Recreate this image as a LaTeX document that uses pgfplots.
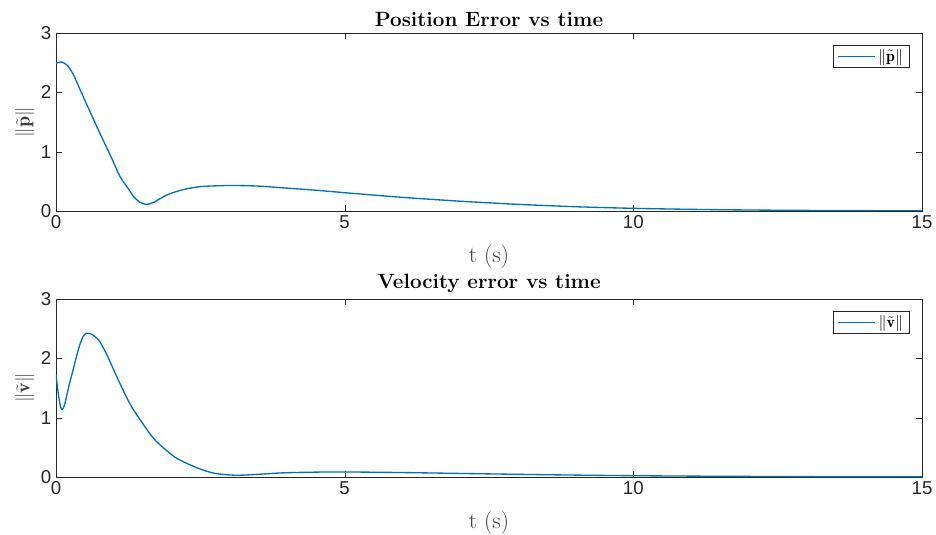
\documentclass[border=0pt]{standalone}
\usepackage{pgfplots}
\pgfplotsset{compat=1.18}
\usepackage{fontspec}
\usepackage{amsmath}
\newfontfamily\ticksf{Liberation Sans}
\definecolor{mblue}{rgb}{0,0.447,0.741}
\definecolor{maxis}{rgb}{0.15,0.15,0.15}
\pgfplotstableread{
t v
0 2.49
0.1 2.51
0.2 2.45
0.3 2.30
0.42 2.04
0.6 1.65
0.76 1.31
0.95 0.92
1.11 0.58
1.25 0.38
1.34 0.25
1.45 0.15
1.57 0.11
1.7 0.15
1.92 0.27
2.2 0.36
2.49 0.41
2.8 0.425
3.07 0.43
3.5 0.42
3.93 0.39
4.5 0.35
4.98 0.31
6 0.23
7 0.165
7.5 0.138
8 0.112
9 0.072
10 0.045
11 0.028
12 0.017
13 0.010
14 0.006
15 0.004
}\ptable
\pgfplotstableread{
t v
0 1.73
0.04 1.40
0.08 1.18
0.11 1.14
0.15 1.22
0.22 1.52
0.3 1.82
0.36 2.05
0.42 2.25
0.47 2.37
0.52 2.42
0.58 2.42
0.66 2.38
0.76 2.28
0.9 2.02
1.11 1.57
1.3 1.20
1.51 0.89
1.7 0.64
1.91 0.45
2.1 0.31
2.38 0.18
2.6 0.10
2.78 0.057
3.0 0.035
3.18 0.03
3.5 0.045
3.93 0.07
4.5 0.082
5 0.085
6 0.075
7 0.06
8 0.045
9 0.032
10 0.022
11 0.015
12 0.010
13 0.006
14 0.004
15 0.003
}\vtable
\pgfplotsset{
  myax/.style={
    scale only axis, width=649.5pt, height=133.5pt,
    xmin=0, xmax=15, ymin=0, ymax=3,
    xtick={0,5,10,15}, ytick={0,1,2,3},
    tick align=inside, major tick length=4.5pt,
    axis line style={maxis}, tick style={maxis},
    tick label style={font=\ticksf\fontsize{14}{16}\selectfont, text=maxis},
    /pgf/number format/assume math mode=true,
    title style={font=\bfseries\fontsize{15.5}{18}\selectfont, yshift=-5pt},
    xlabel style={font=\fontsize{17.5}{20}\selectfont, yshift=-5pt, text=black!75},
    ylabel style={font=\fontsize{15}{18}\selectfont, text=black!75, yshift=-2pt},
    xlabel={t (s)},
    legend style={font=\fontsize{12}{14}\selectfont, draw=maxis, at={(1,1)}, anchor=north east, xshift=-9pt, yshift=-9pt, inner xsep=3pt, inner ysep=1pt},
    legend image code/.code={\draw[#1, line width=1pt] (0pt,0pt) -- (28pt,0pt);},
    legend cell align=left,
  }
}
\begin{document}
\begin{tikzpicture}[x=1pt,y=1pt]
\path[use as bounding box] (0,0) rectangle (702,-401.25);
\begin{axis}[myax, at={(42pt,-24.75pt)}, anchor=north west,
  title={Position Error vs time}, ylabel={$\|\tilde{\mathbf{p}}\|$}]
\addplot[mblue, line width=1pt, smooth] table[x=t,y=v] {\ptable};
\addlegendentry{$\|\tilde{\mathbf{p}}\|$}
\end{axis}
\begin{axis}[myax, at={(42pt,-224.25pt)}, anchor=north west,
  title={Velocity error vs time}, ylabel={$\|\tilde{\mathbf{v}}\|$}]
\addplot[mblue, line width=1pt, smooth] table[x=t,y=v] {\vtable};
\addlegendentry{$\|\tilde{\mathbf{v}}\|$}
\end{axis}
\end{tikzpicture}
\end{document}
